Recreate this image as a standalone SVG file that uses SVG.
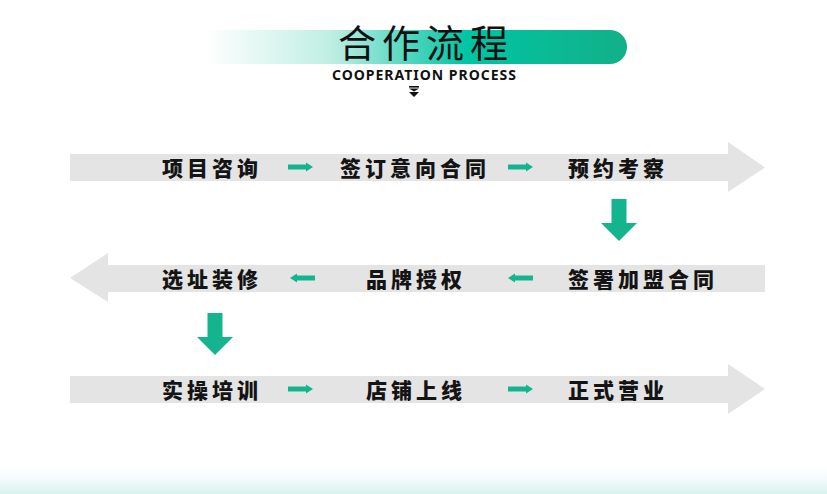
<svg xmlns="http://www.w3.org/2000/svg" width="827" height="494" viewBox="0 0 827 494">
<defs>
<linearGradient id="tg" x1="205" y1="0" x2="626" y2="0" gradientUnits="userSpaceOnUse">
<stop offset="0" stop-color="#ffffff"/>
<stop offset="0.3" stop-color="#bfeee3"/>
<stop offset="0.62" stop-color="#00c5a4"/>
<stop offset="1" stop-color="#12b088"/>
</linearGradient>
<linearGradient id="bg" x1="0" y1="466" x2="0" y2="494" gradientUnits="userSpaceOnUse">
<stop offset="0" stop-color="#ffffff"/>
<stop offset="0.4" stop-color="#f8fbfc"/>
<stop offset="1" stop-color="#d8f3ee"/>
</linearGradient>
<path id="ga" d="M0,-2.6 L18,-2.6 L18,-4.6 L25,0 L18,4.6 L18,2.6 L0,2.6 Z"/>
<path id="da" d="M-7.5,0 L7.5,0 L7.5,24 L18,24 L0,42 L-18,24 L-7.5,24 Z"/>
</defs>
<style>
.band{fill:#e4e4e4}
.lbl{font-family:"Noto Sans CJK SC","Noto Sans",sans-serif;font-weight:900;font-size:21px;fill:#141414;letter-spacing:4px;dominant-baseline:central}
.g{fill:#14b48e}
</style>
<rect x="0" y="0" width="827" height="494" fill="#ffffff"/>
<rect x="0" y="466" width="827" height="28" fill="url(#bg)"/>
<g id="title">
<path d="M205,30 H610 A17,17 0 0 1 610,64 H205 Z" fill="url(#tg)"/>
<text x="426" y="40.5" text-anchor="middle" dominant-baseline="central" font-family="Noto Sans CJK SC, sans-serif" font-size="38" letter-spacing="6" fill="#111111">合作流程</text>
<text x="424.5" y="80" text-anchor="middle" font-family="Noto Sans, Open Sans, sans-serif" font-weight="700" font-size="14" letter-spacing="1" fill="#111111">COOPERATION PROCESS</text>
<rect x="409" y="86" width="10" height="1.6" fill="#111111"/>
<path d="M409,88.5 L419,88.5 L414,91.5 Z M409,92 L419,92 L414,97 Z" fill="#111111"/>
</g>
<g id="connectors">
<path class="band" d="M70,154 H728 V142 L765,167.5 L728,192 V181 H70 Z"/>
<path class="band" d="M765,265 H108 V253 L70,278 L108,302 V292 H765 Z"/>
<path class="band" d="M70,376 H728 V364 L765,389 L728,414 V403 H70 Z"/>
<use href="#ga" class="g" transform="translate(288,167)"/>
<use href="#ga" class="g" transform="translate(508,167)"/>
<use href="#ga" class="g" transform="translate(315,278) scale(-1,1)"/>
<use href="#ga" class="g" transform="translate(533,278) scale(-1,1)"/>
<use href="#ga" class="g" transform="translate(288,389)"/>
<use href="#ga" class="g" transform="translate(508,389)"/>
<use href="#da" class="g" transform="translate(619,199)"/>
<use href="#da" class="g" transform="translate(215,313)"/>
</g>
<g id="n1"><text class="lbl" x="162" y="167">项目咨询</text></g>
<g id="n2"><text class="lbl" x="340" y="167">签订意向合同</text></g>
<g id="n3"><text class="lbl" x="568" y="167">预约考察</text></g>
<g id="n4"><text class="lbl" x="568" y="278">签署加盟合同</text></g>
<g id="n5"><text class="lbl" x="366" y="278">品牌授权</text></g>
<g id="n6"><text class="lbl" x="162" y="278">选址装修</text></g>
<g id="n7"><text class="lbl" x="162" y="389">实操培训</text></g>
<g id="n8"><text class="lbl" x="366" y="389">店铺上线</text></g>
<g id="n9"><text class="lbl" x="568" y="389">正式营业</text></g>
</svg>
